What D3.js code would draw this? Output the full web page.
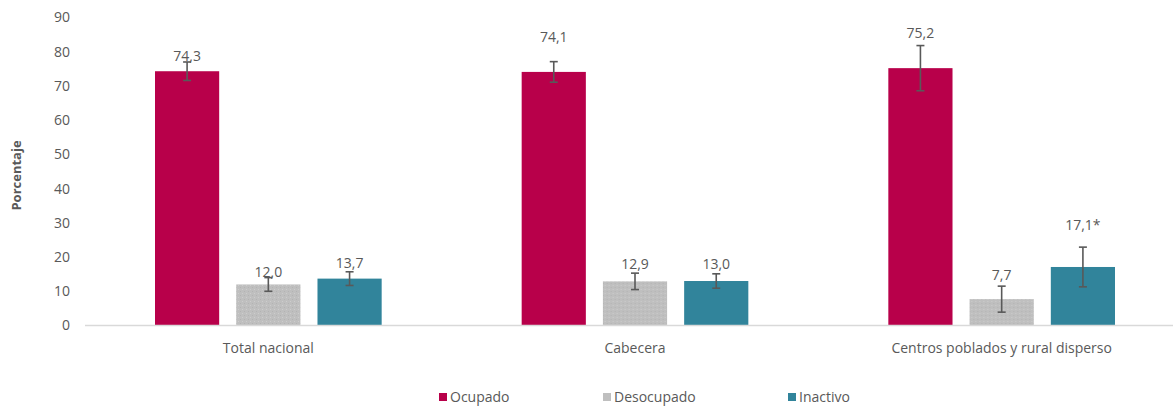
<!DOCTYPE html>
<html>
<head>
<meta charset="utf-8">
<script src="https://cdn.jsdelivr.net/npm/d3@7"></script>
<style>
  html, body { margin: 0; padding: 0; background: #fff; }
  svg { display: block; font-family: "Open Sans", "Noto Sans", sans-serif; }
</style>
</head>
<body>
<svg id="chart" width="1175" height="406"></svg>
<script>
// ---- data ----
const categories = ["Total nacional", "Cabecera", "Centros poblados y rural disperso"];
const seriesNames = ["Ocupado", "Desocupado", "Inactivo"];
const ocupado    = [74.3, 74.1, 75.2];
const desocupado = [12.0, 12.9, 7.7];
const inactivo   = [13.7, 13.0, 17.1];
const ocupadoErr    = [2.7, 3.0, 6.6];
const desocupadoErr = [2.0, 2.4, 3.8];
const inactivoErr   = [2.0, 2.1, 5.8];
const labelSuffix = [["", "", ""], ["", "", ""], ["", "", "*"]]; // [series][category]
const yTicks = [0, 10, 20, 30, 40, 50, 60, 70, 80, 90];

// ---- layout / style (not data) ----
const colors = ["#B8004A", "#BFBFBF", "#31849B"];
// label vertical offset (px above bar-top) chosen to mimic the original placement
const labelLift = [[10, 30, 30], [7, 12, 19], [11, 12, 37]]; // [series][category]
const textColor = "#595959";

const series = [ocupado, desocupado, inactivo];
const errs = [ocupadoErr, desocupadoErr, inactivoErr];

const svg = d3.select("#chart");

const y = d3.scaleLinear().domain([0, 90]).range([325.5, 17.5]);
const x0 = d3.scaleBand().domain(categories).range([85, 1185]).padding(0);
const x1 = d3.scaleBand().domain(seriesNames).range([70, x0.bandwidth() - 70])
  .paddingInner(0.21).paddingOuter(0);

// dotted pattern for gray bars
const defs = svg.append("defs");
const pat = defs.append("pattern").attr("id", "dots").attr("width", 4).attr("height", 4)
  .attr("patternUnits", "userSpaceOnUse");
pat.append("rect").attr("width", 4).attr("height", 4).attr("fill", colors[1]);
pat.append("rect").attr("x", 1).attr("y", 1).attr("width", 1).attr("height", 1).attr("fill", "#CDCDCD");
pat.append("rect").attr("x", 3).attr("y", 3).attr("width", 1).attr("height", 1).attr("fill", "#B3B3B3");

// y axis labels
const yAxis = d3.axisLeft(y).tickValues(yTicks).tickSize(0).tickPadding(0);
const gy = svg.append("g").attr("transform", "translate(70,0)").call(yAxis);
gy.select(".domain").remove();
gy.selectAll("text").attr("fill", textColor).style("font-size", "14px")
  .style("font-family", "'Open Sans', sans-serif");

// axis title
svg.append("text")
  .attr("transform", "translate(21," + (y(45) + 4) + ") rotate(-90)")
  .attr("text-anchor", "middle")
  .attr("fill", textColor)
  .style("font-size", "13px").style("font-weight", "bold")
  .text("Porcentaje");

// bars
const groups = svg.append("g").selectAll("g").data(categories).join("g")
  .attr("transform", d => "translate(" + x0(d) + ",0)");

seriesNames.forEach((s, si) => {
  groups.append("rect")
    .attr("x", x1(s))
    .attr("width", x1.bandwidth())
    .attr("y", (d, ci) => y(series[si][ci]))
    .attr("height", (d, ci) => y(0) - y(series[si][ci]))
    .attr("fill", si === 1 ? "url(#dots)" : colors[si]);
});

// x axis baseline
svg.append("line").attr("x1", 85).attr("x2", 1173).attr("y1", y(0)).attr("y2", y(0))
  .attr("stroke", "#D9D9D9").attr("stroke-width", 1.3);

// error bars
seriesNames.forEach((s, si) => {
  const cx = x1(s) + x1.bandwidth() / 2;
  const eg = groups.append("g").attr("stroke", "#595959").attr("stroke-width", 1.6);
  eg.append("line").attr("x1", cx).attr("x2", cx)
    .attr("y1", (d, ci) => y(series[si][ci] + errs[si][ci]))
    .attr("y2", (d, ci) => y(series[si][ci] - errs[si][ci]));
  [1, -1].forEach(sign => {
    eg.append("line").attr("x1", cx - 4).attr("x2", cx + 4)
      .attr("y1", (d, ci) => y(series[si][ci] + sign * errs[si][ci]))
      .attr("y2", (d, ci) => y(series[si][ci] + sign * errs[si][ci]));
  });
});

// value labels
const fmt = v => v.toFixed(1).replace(".", ",");
seriesNames.forEach((s, si) => {
  groups.append("text")
    .attr("x", x1(s) + x1.bandwidth() / 2)
    .attr("y", (d, ci) => y(series[si][ci]) - labelLift[si][ci])
    .attr("text-anchor", "middle")
    .attr("fill", textColor)
    .style("font-size", "14px")
    .text((d, ci) => fmt(series[si][ci]) + labelSuffix[si][ci]);
});

// category labels
svg.append("g").selectAll("text").data(categories).join("text")
  .attr("x", d => x0(d) + x1(seriesNames[1]) + x1.bandwidth() / 2)
  .attr("y", 353)
  .attr("text-anchor", "middle")
  .attr("fill", textColor)
  .style("font-size", "14px")
  .text(d => d);

// legend
const legendX = [439, 603, 788];
const lg = svg.append("g").selectAll("g").data(seriesNames).join("g")
  .attr("transform", (d, i) => "translate(" + legendX[i] + ",393)");
lg.append("rect").attr("width", 8).attr("height", 8).attr("fill", (d, i) => colors[i]);
lg.append("text").attr("x", 11).attr("y", 9).attr("fill", textColor)
  .style("font-size", "14px").text(d => d);
</script>
</body>
</html>
